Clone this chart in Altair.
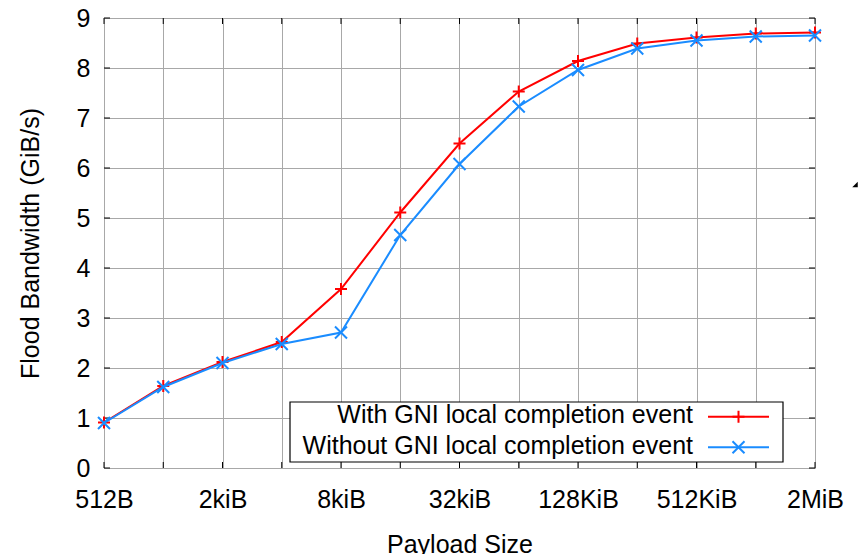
import altair as alt
import pandas as pd

# ---- data ----
sizes = [512, 1024, 2048, 4096, 8192, 16384, 32768, 65536, 131072,
         262144, 524288, 1048576, 2097152]
x_labels = ["512B", "", "2kiB", "", "8kiB", "", "32kiB", "", "128KiB",
            "", "512KiB", "", "2MiB"]
with_vals = [0.91, 1.64, 2.12, 2.52, 3.58, 5.11, 6.49, 7.53, 8.14,
             8.49, 8.61, 8.69, 8.71]
without_vals = [0.90, 1.62, 2.10, 2.48, 2.71, 4.66, 6.08, 7.23, 7.96,
                8.39, 8.55, 8.63, 8.65]
series_names = ["With GNI local completion event",
                "Without GNI local completion event"]
series_colors = ["#ff0000", "#1a8cff"]
y_ticks = [0, 1, 2, 3, 4, 5, 6, 7, 8, 9]

PLUS = "M-1,0L1,0M0,-1L0,1"
CROSS = "M-1,-1L1,1M-1,1L1,-1"
FONT = "Liberation Sans"
W, H = 711, 450

df_with = pd.DataFrame({"size": sizes, "bw": with_vals})
df_without = pd.DataFrame({"size": sizes, "bw": without_vals})
df_x = pd.DataFrame({"size": sizes})
df_y = pd.DataFrame({"v": y_ticks})
one = alt.Data(values=[{"a": 1}])

label_arr = "[" + ",".join("'" + s + "'" for s in x_labels) + "]"

xscale = alt.Scale(type="log", base=2, domain=[sizes[0], sizes[-1]], nice=False)
yscale = alt.Scale(domain=[0, 9], nice=False, zero=True)

xaxis = alt.Axis(values=sizes, grid=True, gridColor="#a8a8a8", gridWidth=1,
                 domain=False, ticks=False, tickSize=0,
                 labelExpr=label_arr + "[round(log(datum.value/512)/LN2)]",
                 labelFontSize=25, labelFont=FONT, labelColor="black",
                 labelBaseline="alphabetic", labelPadding=39,
                 labelFlush=False, labelOverlap=False,
                 title="Payload Size", titleFont=FONT, titleFontSize=25,
                 titleFontWeight="normal", titleColor="black",
                 titleX=W / 2, titleY=84, titleAlign="center",
                 titleBaseline="alphabetic")
yaxis = alt.Axis(values=y_ticks, grid=True, gridColor="#a8a8a8", gridWidth=1,
                 domain=False, ticks=False, tickSize=0,
                 labelFontSize=25, labelFont=FONT, labelColor="black",
                 labelPadding=14, labelBaseline="middle",
                 title="Flood Bandwidth (GiB/s)", titleFont=FONT,
                 titleFontSize=25, titleFontWeight="normal", titleColor="black",
                 titleAngle=270, titleX=-66, titleY=H / 2, titleAlign="center",
                 titleBaseline="alphabetic")

base_x = alt.X("size:Q", scale=xscale, axis=xaxis)
base_y = alt.Y("bw:Q", scale=yscale, axis=yaxis)

grid_layer = alt.Chart(df_with).mark_line(opacity=0).encode(x=base_x, y=base_y)

def series(df, color, shape):
    line = alt.Chart(df).mark_line(color=color, strokeWidth=2).encode(
        x=alt.X("size:Q", scale=xscale), y=alt.Y("bw:Q", scale=yscale))
    pts = alt.Chart(df).mark_point(shape=shape, filled=False, color=color,
                                   strokeWidth=2, size=144, opacity=1).encode(
        x=alt.X("size:Q", scale=xscale), y=alt.Y("bw:Q", scale=yscale))
    return line + pts

s1 = series(df_with, series_colors[0], PLUS)
s2 = series(df_without, series_colors[1], CROSS)

# inward ticks on all four sides
tick_b = alt.Chart(df_x).mark_rule(color="black", strokeWidth=1).encode(
    x=alt.X("size:Q", scale=xscale), y=alt.value(H - 6), y2=alt.value(H))
tick_t = alt.Chart(df_x).mark_rule(color="black", strokeWidth=1).encode(
    x=alt.X("size:Q", scale=xscale), y=alt.value(0), y2=alt.value(6))
tick_l = alt.Chart(df_y).mark_rule(color="black", strokeWidth=1).encode(
    y=alt.Y("v:Q", scale=yscale), x=alt.value(0), x2=alt.value(6))
tick_r = alt.Chart(df_y).mark_rule(color="black", strokeWidth=1).encode(
    y=alt.Y("v:Q", scale=yscale), x=alt.value(W - 6), x2=alt.value(W))

# legend box (gnuplot style: text left, sample right)
box = alt.Chart(one).mark_rect(fill="white", stroke="black", strokeWidth=1.2).encode(
    x=alt.value(186), x2=alt.value(679), y=alt.value(384), y2=alt.value(444))
legend_layers = [box]
rows_y = [398.7, 429.3]
shapes = [PLUS, CROSS]
for name, col, ry, shp in zip(series_names, series_colors, rows_y, shapes):
    legend_layers.append(alt.Chart(one).mark_text(
        align="right", baseline="alphabetic", font=FONT, fontSize=25,
        color="black").encode(x=alt.value(589), y=alt.value(ry + 6.5),
                              text=alt.value(name)))
    legend_layers.append(alt.Chart(one).mark_rule(color=col, strokeWidth=2).encode(
        x=alt.value(604), x2=alt.value(665), y=alt.value(ry)))
    legend_layers.append(alt.Chart(one).mark_point(
        shape=shp, filled=False, color=col, strokeWidth=2, size=144,
        opacity=1).encode(x=alt.value(634.5), y=alt.value(ry)))

# small cropped glyph at the right edge of the figure
edge_glyph = alt.Chart(one).mark_point(
    shape="M1,-1L1,1L-1,1Z", filled=True, color="black", size=30,
    opacity=1).encode(x=alt.value(751), y=alt.value(166.5))

chart = alt.layer(grid_layer, tick_b, tick_t, tick_l, tick_r, s1, s2,
                  *legend_layers, edge_glyph).properties(
    width=W, height=H,
    autosize=alt.AutoSizeParams(type="none"),
    padding={"left": 104, "top": 18, "right": 43, "bottom": 86},
).configure_view(stroke="black", strokeWidth=1.5).configure(
    font=FONT, background="white")

chart.save("out.html", embed_options={"renderer": "svg", "actions": False})
